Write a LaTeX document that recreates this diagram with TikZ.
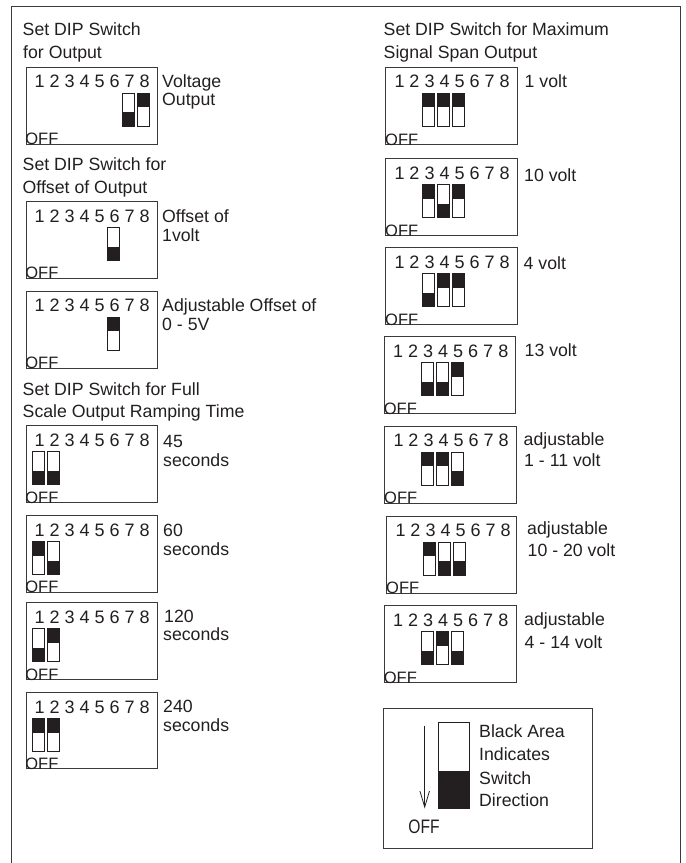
\documentclass[tikz,border=0pt]{standalone}
\usepackage{fontspec}
\setmainfont{Liberation Sans}
\newfontfamily\narrowoff[FakeStretch=0.8]{Liberation Sans}
\usetikzlibrary{calc,arrows.meta}
\definecolor{ink}{HTML}{231F20}
\definecolor{rule}{HTML}{3A3A3A}
\tikzset{
  txt/.style={inner sep=0pt,anchor=base west,text=ink,font=\fontsize{17.7pt}{20pt}\selectfont},
  digits/.style={inner sep=0pt,anchor=base west,text=ink,font=\fontsize{18pt}{20pt}\selectfont},
  offtxt/.style={inner sep=0pt,anchor=base west,text=ink,font=\fontsize{16.5pt}{18pt}\selectfont},
  dipframe/.style={draw=rule,line width=1pt,fill=white,inner sep=0pt,anchor=north west},
  swbody/.style={draw=ink,line width=1pt,fill=white,inner sep=0pt,minimum width=12pt,minimum height=33pt},
  swblack/.style={fill=ink},
  frameline/.style={draw=rule,line width=1pt},
  legendbox/.style={draw=rule,line width=1pt,inner sep=0pt,anchor=north west}
}
% name, x, y, width, height, switches
\newcommand{\dip}[6]{%
  \node[dipframe,minimum width=#4pt,minimum height=#5pt] (#1) at (#2,#3) {};
  \node[digits] (#1-d) at ($(#1.north west)+(9,21)$) {1 2 3 4 5 6 7 8};
  \node[offtxt] (#1-off) at ($(#1.south west)+(-0.3,0)$) {OFF};
  \foreach \i/\st in {#6}{
    \node[swbody] (#1-s\i) at ($(#1.north west)+({13.2+15*(\i-1)},43)$) {};
    \if\st u
      \path[swblack] (#1-s\i.north west) rectangle ($(#1-s\i.north east)+(0,14.5)$);
    \else
      \path[swblack] (#1-s\i.south west) rectangle ($(#1-s\i.south east)+(0,-14.5)$);
    \fi
  }
}
\begin{document}
\begin{tikzpicture}[x=1pt,y=-1pt]
\useasboundingbox (0,0) rectangle (686,863);
% outer frame, open at the bottom
\coordinate (fa) at (11,863);
\coordinate (fb) at (11,6);
\coordinate (fc) at (680,6);
\coordinate (fd) at (680,863);
\draw[frameline] (fa) -- (fb) -- (fc) -- (fd);

% left column
\node[txt] (h1a) at (22.5,35) {Set DIP Switch};
\node[txt] (h1b) at (23,58) {for Output};
\dip{l1}{25.5}{66.5}{131}{77}{7/d,8/u}
\node[txt] (l1a) at (162,87) {Voltage};
\node[txt] (l1b) at (162,105.5) {Output};

\node[txt] (h2a) at (22.5,170) {Set DIP Switch for};
\node[txt] (h2b) at (22.5,193) {Offset of Output};
\dip{l2}{25.5}{201}{131}{76.5}{6/d}
\node[txt] (l2a) at (162,222.5) {Offset of};
\node[txt] (l2b) at (162,241) {1volt};

\dip{l3}{25.5}{290.7}{131}{77}{6/u}
\node[txt] (l3a) at (162,311.5) {Adjustable Offset of};
\node[txt] (l3b) at (162,330) {0 - 5V};

\node[txt] (h3a) at (22.5,395) {Set DIP Switch for Full};
\node[txt] (h3b) at (22.5,417.5) {Scale Output Ramping Time};
\dip{l4}{25.5}{425}{131}{77}{1/d,2/d}
\node[txt] (l4a) at (163,447.5) {45};
\node[txt] (l4b) at (163,466.5) {seconds};

\dip{l5}{25.5}{515}{131}{76.5}{1/u,2/d}
\node[txt] (l5a) at (163,536) {60};
\node[txt] (l5b) at (163,555) {seconds};

\dip{l6}{25.5}{602}{131}{77}{1/d,2/u}
\node[txt] (l6a) at (164,622) {120};
\node[txt] (l6b) at (163,640.5) {seconds};

\dip{l7}{25.5}{692}{131}{76}{1/u,2/u}
\node[txt] (l7a) at (163,712.5) {240};
\node[txt] (l7b) at (163,731) {seconds};

% right column
\node[txt] (h4a) at (383.5,35) {Set DIP Switch for Maximum};
\node[txt] (h4b) at (383.5,58) {Signal Span Output};
\dip{r1}{385.3}{66.7}{131.4}{77.3}{3/u,4/u,5/u}
\node[txt] (r1a) at (524.5,87) {1 volt};
\dip{r2}{385.3}{158}{131.4}{77}{3/u,4/d,5/u}
\node[txt] (r2a) at (524,181) {10 volt};
\dip{r3}{385.3}{247.3}{131.4}{76.7}{3/d,4/u,5/u}
\node[txt] (r3a) at (523.5,269) {4 volt};
\dip{r4}{384}{336.3}{131.3}{76.7}{3/d,4/d,5/u}
\node[txt] (r4a) at (524.5,356.5) {13 volt};
\dip{r5}{384.3}{425.7}{131.4}{77}{3/u,4/u,5/d}
\node[txt] (r5a) at (523.5,445) {adjustable};
\node[txt] (r5b) at (524,466.5) {1 - 11 volt};
\dip{r6}{386.3}{515.7}{129.4}{77}{3/u,4/d,5/d}
\node[txt] (r6a) at (527,534) {adjustable};
\node[txt] (r6b) at (527.5,556) {10 - 20 volt};
\dip{r7}{384}{605}{131.7}{77}{3/d,4/u,5/d}
\node[txt] (r7a) at (524,625) {adjustable};
\node[txt] (r7b) at (524.5,648) {4 - 14 volt};

% legend
\node[legendbox,minimum width=208.5pt,minimum height=140pt] (leg) at (383,708) {};
\node[swbody,minimum width=31pt,minimum height=85.5pt] (legsw) at (454.3,765.6) {};
\path[swblack] (legsw.south west) rectangle ($(legsw.south east)+(0,-37.5)$);
\coordinate (arra) at (424.7,725.7);
\coordinate (arrb) at (424.7,808.5);
\draw[draw=ink,line width=1pt,-{Straight Barb[length=16pt,width=9.5pt,line width=0.8pt]}] (arra) -- (arrb);
\node[inner sep=0pt,anchor=base,text=ink,font=\narrowoff\fontsize{19.5pt}{20pt}\selectfont] (legoff) at (424,833) {OFF};
\node[txt] (lega) at (479,737.7) {Black Area};
\node[txt] (legb) at (479,760.7) {Indicates};
\node[txt] (legc) at (479,784) {Switch};
\node[txt] (legd) at (479,806) {Direction};
\end{tikzpicture}
\end{document}
